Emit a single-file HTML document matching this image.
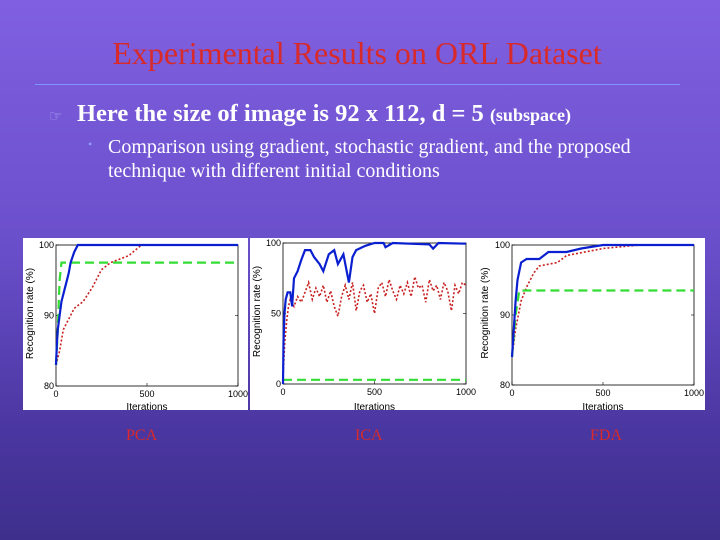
<!DOCTYPE html>
<html><head><meta charset="utf-8">
<style>
html,body{margin:0;padding:0}
body{width:720px;height:540px;overflow:hidden;background:linear-gradient(180deg,#8060e0 0%,#6a4fcb 45%,#4a36a0 80%,#3e2f8c 100%);position:relative;font-family:"Liberation Serif",serif}
.t{position:absolute;white-space:nowrap}
</style></head>
<body>
<div class="t" style="left:0;width:714px;text-align:center;top:35px;font-size:32px;color:#d82a2a">Experimental Results on ORL Dataset</div>
<div style="position:absolute;left:35px;top:84px;width:645px;height:1px;background:#7f95ff"></div>
<div class="t" style="left:49px;top:107px;font-size:15px;color:#a8a0f0">☞</div>
<div class="t" style="left:77px;top:100px;font-size:24.5px;font-weight:bold;color:#fff">Here the size of image is 92 x 112, d = 5 <span style="font-size:18px">(subspace)</span></div>
<div class="t" style="left:88px;top:137px;font-size:12px;color:#8fa0ff">•</div>
<div class="t" style="left:108px;top:135px;font-size:20px;line-height:24px;color:#fff">Comparison using gradient, stochastic gradient, and the proposed<br>technique with different initial conditions</div>
<svg id="c" width="720" height="540" style="position:absolute;left:0;top:0"></svg>
<div class="t" style="left:126px;top:427px;font-size:16px;color:#d82a2a">PCA</div>
<div class="t" style="left:355px;top:427px;font-size:16px;color:#d82a2a">ICA</div>
<div class="t" style="left:590px;top:427px;font-size:16px;color:#d82a2a">FDA</div>
<script>
// PCA data
const pcaBlueX=[0,5,10,20,30,40,50,60,70,80,100,120,1000];
const pcaBlueY=[83,86,88,90,92,93,94,95,96,97.5,99,100,100];
const pcaGreenX=[0,10,20,30,1000];
const pcaGreenY=[83,88,95,97.5,97.5];
const pcaRedX=[0,20,40,60,100,150,200,250,300,400,470,1000];
const pcaRedY=[83,85,88,89,91,92,94,96.5,97.5,98.5,100,100];
// ICA data
const icaBlueX=[0,3,8,15,25,40,50,60,80,100,120,150,170,200,220,250,280,300,330,360,380,400,450,500,550,560,600,800,820,850,1000];
const icaBlueY=[0,30,50,60,65,65,55,75,80,88,95,95,90,85,80,92,95,85,92,72,90,95,98,100,100,97,100,99,96,100,99.5];
const icaRedX=[0,10,20,30,40,60,80,100,120,140,160,180,200,220,240,260,280,300,320,340,360,380,400,420,440,460,480,500,520,540,560,580,600,620,640,660,680,700,720,740,760,780,800,820,840,860,880,900,920,940,960,980,1000];
const icaRedY=[5,30,45,55,60,55,62,58,65,72,60,68,62,70,58,66,55,48,62,70,60,72,52,66,70,58,64,50,68,72,62,74,66,60,70,64,72,62,76,68,70,58,74,66,70,60,72,66,52,70,64,72,70];
const icaGreenX=[0,1000];
const icaGreenY=[3,3];
// FDA data
const fdaBlueX=[0,10,20,30,50,80,150,200,300,380,500,1000];
const fdaBlueY=[84,88,92,95,97.5,98,98,99,99,99.5,100,100];
const fdaGreenX=[0,20,40,1000];
const fdaGreenY=[84,90,93.5,93.5];
const fdaRedX=[0,20,50,80,120,150,250,300,500,700,1000];
const fdaRedY=[84,88,92,94,96,97,97.5,98.5,99.5,100,100];
const xTicks=[0,500,1000];
const pcaTicks=[80,90,100];
const icaTicks=[0,50,100];

const NS='http://www.w3.org/2000/svg';
const svg=document.getElementById('c');
function mk(tag,attrs,parent){const e=document.createElementNS(NS,tag);for(const k in attrs)e.setAttribute(k,attrs[k]);(parent||svg).appendChild(e);return e;}

function chart(cfg){
  const g=mk('g',{});
  
  
  const bg=mk('rect',{x:cfg.px,y:238,width:cfg.pw,height:172,fill:'#fff'},g);
  
  
  const L=cfg.l,R=cfg.r,T=cfg.t,B=cfg.b;
  const sx=v=>L+(v-0)/1000*(R-L);
  const sy=v=>B-(v-cfg.ymin)/(cfg.ymax-cfg.ymin)*(B-T);
  const fr=mk('rect',{x:L,y:T,width:R-L,height:B-T,fill:'none',stroke:'#000','stroke-width':0.8},g);
  
  
  xTicks.forEach(v=>{
    const t=mk('text',{x:sx(v),y:B+11,'font-size':9,'font-family':'Liberation Sans, sans-serif','text-anchor':'middle'},g);
    t.textContent=v;
    
    
    mk('line',{x1:sx(v),x2:sx(v),y1:B,y2:B-3,stroke:'#000','stroke-width':0.6},g);
  });
  cfg.yt.forEach(v=>{
    const t=mk('text',{x:L-2,y:sy(v)+3,'font-size':9,'font-family':'Liberation Sans, sans-serif','text-anchor':'end'},g);
    t.textContent=v;
    
    
    mk('line',{x1:L,x2:L+3,y1:sy(v),y2:sy(v),stroke:'#000','stroke-width':0.6},g);
    mk('line',{x1:R,x2:R-3,y1:sy(v),y2:sy(v),stroke:'#000','stroke-width':0.6},g);
  });
  const xl=mk('text',{x:(L+R)/2,y:410,'font-size':10,'font-family':'Liberation Sans, sans-serif','text-anchor':'middle'},g);
  xl.textContent='Iterations';
  
  
  const yl=mk('text',{x:0,y:0,'font-size':10,'font-family':'Liberation Sans, sans-serif','text-anchor':'middle',transform:`translate(${cfg.px+10},${(T+B)/2-2}) rotate(-90)`},g);
  yl.textContent='Recognition rate (%)';
  
  
  const series=[
    {x:cfg.rx,y:cfg.ry,c:'#c82020',w:1.6,d:'2,2',n:'series-stochastic-gradient'},
    {x:cfg.gx,y:cfg.gy,c:'#33dd33',w:2.2,d:'9,5',n:'series-gradient'},
    {x:cfg.bx,y:cfg.by,c:'#0a20d0',w:2.2,d:'',n:'series-proposed'}
  ];
  series.forEach(s=>{
    const pts=s.x.map((xv,i)=>sx(xv).toFixed(1)+','+sy(s.y[i]).toFixed(1)).join(' ');
    const p=mk('polyline',{points:pts,fill:'none',stroke:s.c,'stroke-width':s.w,'stroke-dasharray':s.d},g);
    
    
  });
}
chart({name:'pca-chart',px:23,pw:225,l:56,r:238,t:245,b:386,ymin:80,ymax:100,yt:pcaTicks,bx:pcaBlueX,by:pcaBlueY,gx:pcaGreenX,gy:pcaGreenY,rx:pcaRedX,ry:pcaRedY});
chart({name:'ica-chart',px:250,pw:228,l:283,r:466,t:243,b:384,ymin:0,ymax:100,yt:icaTicks,bx:icaBlueX,by:icaBlueY,gx:icaGreenX,gy:icaGreenY,rx:icaRedX,ry:icaRedY});
chart({name:'fda-chart',px:478,pw:227,l:512,r:694,t:245,b:385,ymin:80,ymax:100,yt:pcaTicks,bx:fdaBlueX,by:fdaBlueY,gx:fdaGreenX,gy:fdaGreenY,rx:fdaRedX,ry:fdaRedY});
</script>
</body></html>
